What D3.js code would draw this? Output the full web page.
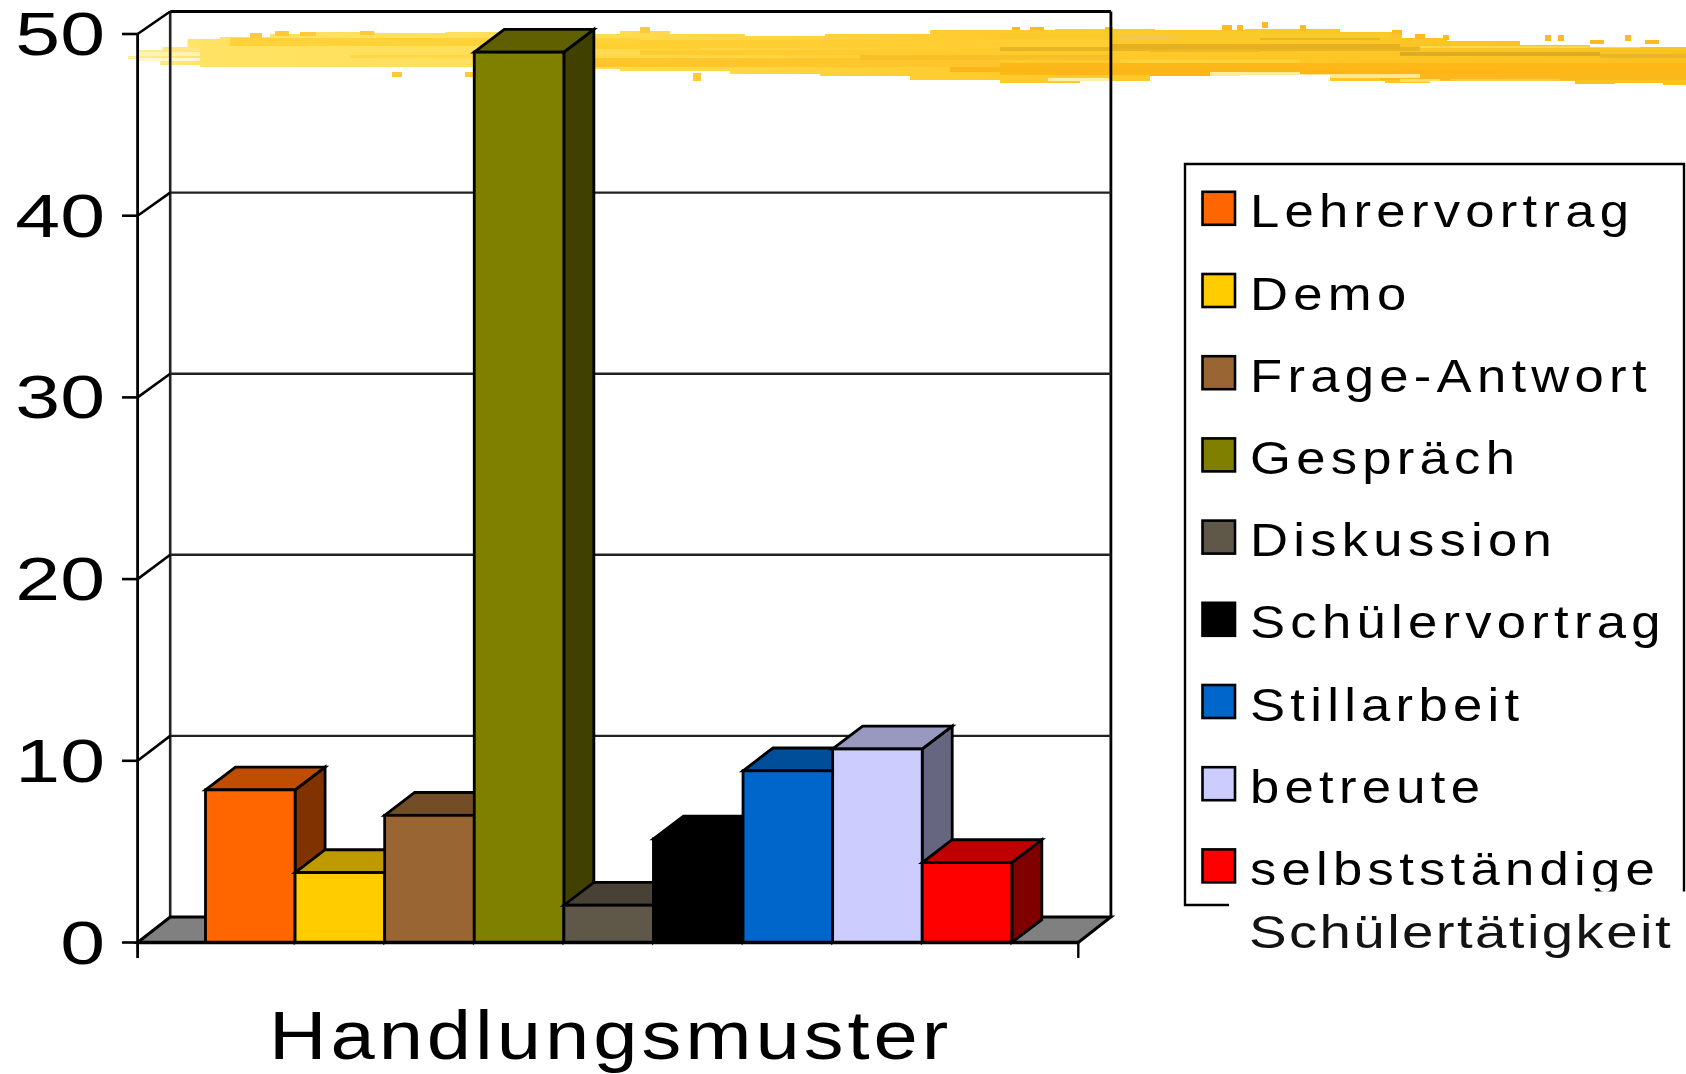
<!DOCTYPE html>
<html><head><meta charset="utf-8">
<script src="https://cdn.jsdelivr.net/npm/d3@7"></script>
<style>html,body{margin:0;background:#fff;overflow:hidden}svg{display:block}text{font-family:"Liberation Sans",Arial,sans-serif;fill:#000}</style>
</head><body><svg id="c" width="1686" height="1074"></svg>
<script>
const categories=["Lehrervortrag","Demo","Frage-Antwort","Gespräch","Diskussion","Schülervortrag","Stillarbeit","betreute","selbstständige"];
const values=[8.4,3.85,7.0,49.0,2.05,5.7,9.45,10.65,4.4];
const colors=["#FF6600","#FFCC00","#996633","#808000","#5F5748","#000000","#0066CC","#CCCCFF","#FF0000"];
const tickValues=[0,10,20,30,40,50];
const axisTitle="Handlungsmuster";
const legendExtra="Schülertätigkeit";
// decorative brush band: stepped outline [x,y]
const bandTop=[[128,56],[150,50],[175,47],[200,39],[240,37],[300,34],[330,32],[420,33],[470,32],[540,34],[600,34],[640,31],[700,34],[790,36],[860,34],[1000,30],[1110,29],[1200,30],[1290,29],[1390,32],[1414,38],[1480,41],[1560,45],[1620,47],[1686,47]];
const bandBottom=[[1686,85],[1640,83],[1590,84],[1560,81],[1450,81],[1410,83],[1360,81],[1300,75],[1180,76],[1120,81],[1040,83],[960,80],[860,76],[780,74],[680,71],[560,69],[400,67],[300,67],[230,67],[170,65],[150,61],[128,59]];
const bandStreaks=[
[640,1110,40,8,"#FFCE33"],[1000,1390,33,6,"#F8CB28"],[1110,1690,44,6,"#F7C525"],[1000,1420,47,4,"#E9B522"],[1110,1400,44,5,"#E5B022"],[1400,1600,52,4,"#DDAC26"],[1600,1686,54,4,"#EAB52A"],
[1000,1686,63,12,"#FDB716"],[1150,1500,70,6,"#FDB414"],[950,1300,66,6,"#FBB618"],[1380,1686,74,6,"#FBB81C"],
[230,640,38,8,"#FFD23A"],[480,700,44,5,"#FFCF30"],[350,640,55,3,"#FFD848"],[560,1000,58,9,"#FFC62C"],[640,1000,50,5,"#FFCB2E"],[860,1110,55,5,"#F8C027"],
[1120,1300,60,3,"#FFD23C"],[1300,1420,74,4,"#FFE890"],[1210,1300,72,4,"#FFEB9C"],[1048,1110,78,3,"#FFF0B0"],[1400,1440,79,3,"#FFDE66"],[1450,1560,79,3,"#FFC94A"],
[128,200,52,4,"#FFF3B0"],[140,200,58,3,"#FFF8D0"],[170,200,48,3,"#FFE680"],[320,500,60,3,"#FFE060"],
[1120,1180,36,3,"#F2C84A"],[1150,1260,50,2,"#EFB920"],[1260,1380,38,2,"#E8B52A"],[1420,1640,46,2,"#FFD84E"]];
const bandSpecks=[[250,33,12,5],[275,31,14,5],[300,32,16,4],[360,31,14,4],[392,72,10,5],[465,72,12,5],[640,27,10,6],[693,73,8,8],[1012,27,8,3],[1030,27,14,3],[1105,27,8,3],[1222,25,10,5],[1237,25,6,6],[1262,22,6,6],[1300,25,6,6],[1392,30,10,4],[1415,34,10,5],[1443,35,6,5],[1545,35,6,6],[1558,35,6,6],[1625,35,6,6],[1590,40,14,4],[1645,40,14,4]];

const svg=d3.select("#c");
const yFront=d3.scaleLinear().domain([0,50]).range([942.5,34]);
const yBack=d3.scaleLinear().domain([0,50]).range([917,11.5]);
const x=d3.scaleBand().domain(categories).range([138.3,1079]).paddingInner(0).paddingOuter(0.75);
const dx=32.6, barDx=30, barDy=22.8;
const xL=137.6,xR=1078.3;
const shade=(c,k)=>{const r=d3.rgb(c);return d3.rgb(r.r*k,r.g*k,r.b*k).formatHex();};
const poly=(g,pts,fill,sw=2.8)=>g.append("polygon").attr("points",pts.map(p=>p.join(",")).join(" ")).attr("fill",fill).attr("stroke","#000").attr("stroke-width",sw).attr("stroke-linejoin","miter");

// band
const defs=svg.append("defs");
const gr=defs.append("linearGradient").attr("id","band").attr("gradientUnits","userSpaceOnUse").attr("x1",128).attr("x2",1686).attr("y1",0).attr("y2",0);
[[0,"#FFEE99"],[0.05,"#FFE263"],[0.25,"#FFDF58"],[0.36,"#FFD848"],[0.55,"#FFCB2C"],[1,"#FBC21E"]].forEach(s=>gr.append("stop").attr("offset",s[0]).attr("stop-color",s[1]));
const stepTop=d3.line().curve(d3.curveStep);
const bandPath=stepTop(bandTop)+"L"+stepTop(bandBottom).slice(1)+"Z";
defs.append("clipPath").attr("id","bandClip").append("path").attr("d",bandPath);
const band=svg.append("g");
band.append("path").attr("d",bandPath).attr("fill","url(#band)");
const inner=band.append("g").attr("clip-path","url(#bandClip)");
bandStreaks.forEach(s=>inner.append("rect").attr("x",s[0]).attr("width",s[1]-s[0]).attr("y",s[2]).attr("height",s[3]).attr("fill",s[4]));
bandSpecks.forEach(s=>band.append("rect").attr("x",s[0]).attr("y",s[1]).attr("width",s[2]).attr("height",s[3]).attr("fill",s[0]<700?"#FFC93A":"#FDBB1E"));

// walls & gridlines
const wall=svg.append("g");
wall.append("line").attr("x1",xL+dx).attr("x2",xL+dx).attr("y1",yBack(50)).attr("y2",yBack(0)).attr("stroke","#222").attr("stroke-width",2.6);
wall.append("line").attr("x1",xR+dx).attr("x2",xR+dx).attr("y1",yBack(50)).attr("y2",yBack(0)).attr("stroke","#000").attr("stroke-width",2.8);
tickValues.filter(t=>t>0).forEach(t=>{
  wall.append("line").attr("x1",xL+dx).attr("x2",xR+dx).attr("y1",yBack(t)).attr("y2",yBack(t)).attr("stroke",t==50?"#000":"#222").attr("stroke-width",t==50?3:2.4);
  wall.append("line").attr("x1",xL).attr("x2",xL+dx).attr("y1",yFront(t)).attr("y2",yBack(t)).attr("stroke","#000").attr("stroke-width",2.6);
});
// floor
poly(wall,[[xL,yFront(0)],[xL+dx,yBack(0)],[xR+dx,yBack(0)],[xR,yFront(0)]],"#808080",3);

// bars
const bars=svg.append("g");
categories.forEach((c,i)=>{
  const x0=x(c),x1=x0+x.bandwidth(),yt=yFront(values[i]),yb=yFront(0),col=colors[i];
  const g=bars.append("g");
  poly(g,[[x1,yt],[x1+barDx,yt-barDy],[x1+barDx,yb-barDy],[x1,yb]],shade(col,0.5));
  poly(g,[[x0,yt],[x0+barDx,yt-barDy],[x1+barDx,yt-barDy],[x1,yt]],shade(col,0.75));
  g.append("rect").attr("x",x0).attr("y",yt).attr("width",x1-x0).attr("height",yb-yt).attr("fill",col).attr("stroke","#000").attr("stroke-width",2.8);
});

// axes
const ax=svg.append("g");
ax.append("line").attr("x1",xL).attr("x2",xL).attr("y1",yFront(50)).attr("y2",958).attr("stroke","#000").attr("stroke-width",2.8);
ax.append("line").attr("x1",xL).attr("x2",xR).attr("y1",yFront(0)).attr("y2",yFront(0)).attr("stroke","#000").attr("stroke-width",3.4);
ax.append("line").attr("x1",xR).attr("x2",xR).attr("y1",yFront(0)).attr("y2",958).attr("stroke","#000").attr("stroke-width",2.4);
const sText=(g,t,px,py,size,sx,ls)=>g.append("text").text(t).attr("transform",`translate(${px},${py}) scale(${sx},1)`).attr("font-size",size).attr("letter-spacing",ls);
tickValues.forEach(t=>{
  ax.append("line").attr("x1",122).attr("x2",xL).attr("y1",yFront(t)).attr("y2",yFront(t)).attr("stroke","#000").attr("stroke-width",2.6);
  sText(ax,String(t),105,yFront(t)+21,62,1.3,0).attr("text-anchor","end");
});
sText(ax,axisTitle,269,1059,68,1.17,3.4);

// legend
const lg=svg.append("g");
const rowH=82.2;
categories.forEach((c,i)=>{
  const ty=227.3+i*rowH;
  lg.append("rect").attr("x",1202.5).attr("y",ty-35.5).attr("width",32.5).attr("height",33).attr("fill",colors[i]).attr("stroke","#000").attr("stroke-width",2.6);
  sText(lg,c,1250,ty,47,1.12,4.7);
});
lg.append("rect").attr("x",1229).attr("y",891.5).attr("width",457).attr("height",70).attr("fill","#fff");
lg.append("path").attr("d","M1229,905H1185V164H1684V891.5").attr("fill","none").attr("stroke","#000").attr("stroke-width",2.4);
sText(lg,legendExtra,1249,947.7,47,1.2,2).attr("opacity",0.92);
</script></body></html>
